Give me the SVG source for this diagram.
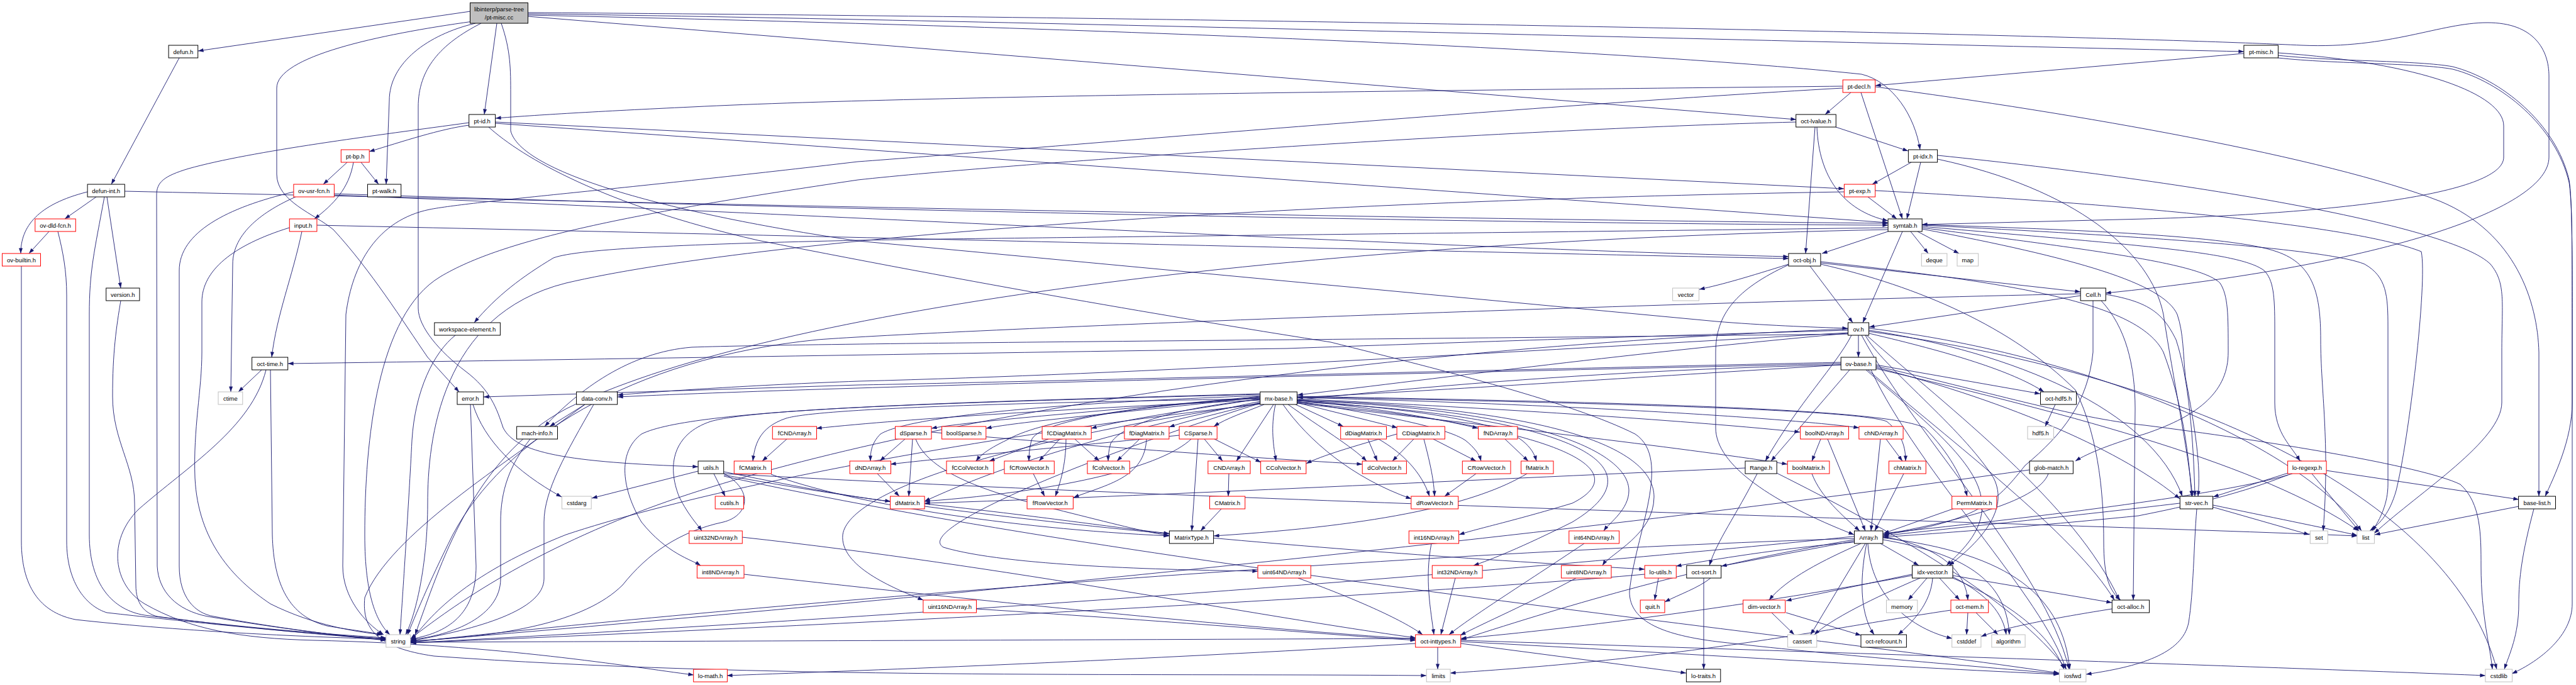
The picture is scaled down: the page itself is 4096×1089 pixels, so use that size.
<svg xmlns="http://www.w3.org/2000/svg" width="4096" height="1089" viewBox="0 0 4096 1089">
<defs>
<style>
rect{stroke-width:1;fill:#fff}
.k rect{stroke:#000}
.r rect{stroke:#ff0000}
.g rect{stroke:#bfbfbf}
.m rect{stroke:#000;fill:#bfbfbf}
text{font-family:"Liberation Sans",Arial,Helvetica,sans-serif;font-size:9.5px;text-anchor:middle;fill:#000}
#edges path{fill:none;stroke:#191970;stroke-width:0.9;marker-end:url(#arr)}
</style>
<marker id="arr" viewBox="0 0 10 7" refX="10" refY="3.5" markerWidth="9" markerHeight="6" markerUnits="userSpaceOnUse" orient="auto"><path d="M0,0 L10,3.5 L0,7 z" fill="#191970"/></marker>
</defs>
<rect x="0" y="0" width="4096" height="1089" fill="#fff" stroke="none"/>
<g id="edges">
<path d="M748,18 L315,81"/>
<path d="M285,92 L177,293"/>
<path d="M752,34 C600,55 440,90 440,140 L440,277 C440,320 500,340 530,365 C590,430 640,510 680,568 L730,623"/>
<path d="M756,37 C680,55 619,100 619,160 L614,293"/>
<path d="M765,37 C700,70 665,110 665,170 L665,490 C665,520 700,560 740,590 C780,620 790,650 800,680 C820,720 900,735 1110,742"/>
<path d="M790,37 L770,182"/>
<path d="M839,22 C1500,30 3000,70 3568,82"/>
<path d="M839,20 C2000,28 3300,55 3660,72 C3800,78 3880,36 3955,36 C4030,36 4053,80 4053,121 L4053,250 C4053,330 3800,420 3348,466"/>
<path d="M839,24 C1800,45 2600,80 2960,118 C3010,130 3045,185 3053,238"/>
<path d="M839,26 L2856,190"/>
<path d="M797,37 C812,80 812,110 812,150 L812,208 C830,280 1100,345 1364,383 L2729,511 C2800,517 2880,520 2938,522"/>
<path d="M746,199 C700,205 640,225 587,241"/>
<path d="M746,195 C600,215 400,240 300,268 C260,280 249,290 249,310 L250,900 C252,940 280,970 330,980 C450,1000 550,1012 614,1017"/>
<path d="M788,194 L2932,300"/>
<path d="M788,196 L3002,354"/>
<path d="M777,202 C830,250 960,326 1205,382 C1600,460 1900,510 2116,544 C2300,590 2500,640 2600,690 C2660,730 2600,850 2591,940 C2590,990 2650,1010 2730,1020 C2900,1040 3150,1060 3274,1071"/>
<path d="M2930,137 C2500,142 1500,150 1100,170 C950,177 850,183 788,188"/>
<path d="M2943,147 L2902,182"/>
<path d="M2959,147 L3025,348"/>
<path d="M2930,140 C2400,170 1600,240 1364,257 C1000,300 750,320 683,333 C600,350 560,420 550,500 L545,900 C545,950 580,990 610,1009"/>
<path d="M2982,138 C3300,180 3700,250 3880,320 C4000,370 4035,480 4037,560 L4037,789"/>
<path d="M3081,247 C3500,290 3900,360 3960,420 C3985,450 3978,480 3978,560 L3978,640 C3978,700 3850,780 3775,848"/>
<path d="M3622,92 C3715,102 3846,100 3900,110 C3977,130 4064,200 4085,290 C4090,320 4090,400 4090,500 L4090,640 C4090,700 4060,760 4047,789"/>
<path d="M3622,88 C3715,98 3846,96 3900,106 C3977,126 4064,196 4085,286 C4090,316 4090,400 4090,500 L4090,960 C4090,1010 4040,1050 3994,1071"/>
<path d="M3568,85 L2982,136"/>
<path d="M3622,84 C3850,100 3981,150 3981,200 L3981,250 C3981,310 3700,340 3410,348 L3056,357"/>
<path d="M2919,202 L3034,240"/>
<path d="M2886,202 L2871,403"/>
<path d="M2889,202 C2892,280 2930,335 3002,351"/>
<path d="M2856,194 C2400,205 1600,260 1364,286 C1000,340 800,380 700,440 C600,500 580,700 580,850 C580,950 600,990 620,1009"/>
<path d="M552,258 L514,293"/>
<path d="M574,258 L602,293"/>
<path d="M562,258 C555,300 530,325 500,348"/>
<path d="M3039,258 L2977,293"/>
<path d="M3054,258 L3032,348"/>
<path d="M3081,253 C3300,300 3420,400 3440,500 C3455,600 3480,720 3486,789"/>
<path d="M139,305 C60,325 33,360 33,403"/>
<path d="M153,313 L103,348"/>
<path d="M170,313 L192,458"/>
<path d="M166,313 C150,400 142,430 142,500 L142,850 C142,930 180,970 230,978 C400,1000 550,1010 614,1014"/>
<path d="M198,304 C1000,322 2200,348 3002,355"/>
<path d="M78,368 L46,403"/>
<path d="M92,368 C100,400 106,430 106,470 L106,860 C106,930 140,965 170,974 C400,1000 550,1012 614,1015"/>
<path d="M34,423 L34,860 C34,940 70,975 120,985 C300,1005 500,1013 614,1016"/>
<path d="M192,478 C185,520 179,560 179,630 C179,700 214,740 214,800 L216,930 C216,960 230,975 250,980 C400,1000 550,1012 614,1017"/>
<path d="M467,305 C360,330 285,370 285,430 L285,900 C285,950 310,975 340,980 C450,1000 550,1012 614,1018"/>
<path d="M470,313 C420,335 370,370 370,420 L367,623"/>
<path d="M531,308 C1200,330 2300,355 3002,358"/>
<path d="M531,310 C1500,350 2300,395 2844,408"/>
<path d="M460,362 C370,390 321,430 321,480 L321,560 C321,620 307,680 310,760 C315,860 370,920 430,960 C500,995 570,1005 608,1009"/>
<path d="M480,368 C465,440 440,500 432,568"/>
<path d="M504,358 C1500,380 2300,400 2844,411"/>
<path d="M2970,313 L3016,348"/>
<path d="M2982,303 C3400,325 3750,360 3850,400 C3860,450 3830,700 3810,780 C3800,815 3785,832 3768,844"/>
<path d="M2932,305 C2000,320 1200,380 900,450 C700,500 680,700 680,800 C680,900 660,980 645,1009"/>
<path d="M3002,368 L2897,403"/>
<path d="M3025,368 L2962,513"/>
<path d="M3038,368 L3066,403"/>
<path d="M3049,368 L3115,403"/>
<path d="M3056,357 C3300,365 3550,375 3620,400 C3680,420 3690,470 3690,540 C3690,620 3705,700 3694,844"/>
<path d="M3056,358 C3400,375 3700,395 3760,420 C3795,440 3797,470 3797,520 L3797,770 C3797,800 3785,825 3772,844"/>
<path d="M3056,360 C3400,390 3560,400 3600,430 C3615,445 3617,470 3617,520 L3617,640 C3617,690 3645,710 3657,733"/>
<path d="M3056,362 C3350,400 3500,420 3530,450 C3543,470 3543,500 3543,560 C3543,620 3500,660 3410,690 C3360,705 3320,720 3300,733"/>
<path d="M3056,364 C3300,410 3440,450 3462,500 C3472,530 3471,560 3475,600 C3490,680 3500,740 3495,789"/>
<path d="M3002,362 C2400,370 1600,378 1365,382 C1100,388 920,395 880,410 C830,440 790,470 754,513"/>
<path d="M3002,365 C2000,385 1200,500 900,650 C750,730 700,900 660,1009"/>
<path d="M2878,423 L2946,513"/>
<path d="M2895,418 L3308,464"/>
<path d="M2844,420 C2780,440 2740,452 2702,460"/>
<path d="M2895,420 C3050,455 3200,520 3300,620 C3340,700 3345,800 3345,860 C3345,920 3355,940 3372,954"/>
<path d="M2844,421 C2760,460 2728,500 2728,560 L2728,680 C2728,740 2820,800 2948,850"/>
<path d="M2895,416 C3200,450 3400,480 3440,560 C3470,640 3480,720 3485,789"/>
<path d="M3308,470 L2972,520"/>
<path d="M3328,478 L3328,560 C3320,640 3280,690 3220,740 C3180,790 3150,830 2994,850"/>
<path d="M3341,478 C3380,520 3395,580 3395,650 L3392,954"/>
<path d="M3348,468 C3420,480 3440,500 3460,540 C3480,600 3488,700 3490,789"/>
<path d="M3308,467 C2500,485 1500,525 1300,540 C1000,570 800,700 720,850 C680,930 660,980 648,1009"/>
<path d="M724,533 C690,560 660,620 655,700 C650,800 640,950 636,1009"/>
<path d="M2955,533 L2955,568"/>
<path d="M2938,525 C2600,535 2300,545 2046,554 C1500,562 900,572 458,578"/>
<path d="M2927,576 C2300,590 1500,610 1365,612 L769,631"/>
<path d="M2938,529 C2400,560 1800,595 1365,606 C1200,612 1050,622 982,628"/>
<path d="M2938,531 C2200,540 1300,545 1100,552 C1000,560 920,620 866,678"/>
<path d="M2944,533 C2920,580 2860,640 2807,733"/>
<path d="M2941,588 L2816,733"/>
<path d="M2938,530 C2600,560 2300,600 2063,628"/>
<path d="M2927,580 C2600,600 2300,620 2063,632"/>
<path d="M2966,533 C2990,580 3120,680 3170,760 C3195,810 3150,860 3099,899"/>
<path d="M2967,588 C3050,660 3140,730 3150,790 C3160,840 3120,875 3095,899"/>
<path d="M2972,530 C3100,560 3200,590 3250,623"/>
<path d="M2983,580 L3244,626"/>
<path d="M2972,525 C3200,560 3420,650 3470,789"/>
<path d="M2972,522 C3300,560 3650,700 3755,844"/>
<path d="M2960,533 C3050,700 3250,900 3290,1064"/>
<path d="M2938,523 C2000,560 1300,700 1000,820 C800,900 700,980 653,1015"/>
<path d="M2972,527 C3500,600 3900,800 3970,1064"/>
<path d="M2968,533 C3100,650 3300,800 3370,954"/>
<path d="M2983,584 C3200,640 3380,720 3466,793"/>
<path d="M2983,582 C3150,620 3300,665 3410,676 C3600,700 3850,740 3912,770 C3945,800 3945,850 3945,900 C3945,980 3960,1030 3963,1064"/>
<path d="M2983,586 C3300,660 3600,740 3750,844"/>
<path d="M2975,588 C3050,750 3250,950 3285,1064"/>
<path d="M2927,580 C2000,600 1200,750 900,850 C750,910 690,970 653,1020"/>
<path d="M2927,578 C2200,595 1400,612 982,631"/>
<path d="M2970,588 C3100,700 3300,850 3362,954"/>
<path d="M416,588 L379,623"/>
<path d="M430,588 L433,850 C435,930 460,980 520,995 C560,1002 590,1005 608,1009"/>
<path d="M423,588 C400,680 300,740 220,810 C170,860 180,930 230,960 C300,1000 380,1015 500,1018 C800,1025 1000,1060 1103,1073"/>
<path d="M930,643 L874,678"/>
<path d="M944,643 C900,720 865,780 865,830 L865,920 C865,970 760,1000 653,1019"/>
<path d="M930,643 C800,740 620,850 580,950 C575,1000 600,1030 690,1043 C1200,1080 1800,1070 2268,1074"/>
<path d="M843,698 C810,740 796,780 796,830 L796,920 C796,980 720,1010 653,1017"/>
<path d="M752,643 C770,700 820,750 893,790"/>
<path d="M748,643 L757,900 C757,970 720,1005 653,1016"/>
<path d="M1110,749 L941,792"/>
<path d="M1135,753 L1153,789"/>
<path d="M1150,752 C1200,780 1190,820 1150,830 C1080,845 1030,880 990,930 C930,990 800,1012 653,1019"/>
<path d="M1151,755 C1500,820 2000,870 2615,905"/>
<path d="M1151,757 C1800,900 2800,1000 3274,1070"/>
<path d="M1151,753 C2000,800 3200,830 3748,852"/>
<path d="M1151,750 C1250,770 1350,790 1416,797"/>
<path d="M1251,698 L1212,733"/>
<path d="M2004,636 C1700,650 1450,665 1298,681"/>
<path d="M2004,634 C1600,640 1300,650 1250,665 C1205,680 1200,710 1197,733"/>
<path d="M2004,630 C1800,650 1550,668 1481,681"/>
<path d="M2004,631 C1800,655 1620,670 1568,681"/>
<path d="M2004,634 C1900,650 1800,665 1735,681"/>
<path d="M2006,639 C1950,655 1900,665 1859,679"/>
<path d="M2010,643 C1980,655 1950,665 1930,678"/>
<path d="M2025,643 L1966,733"/>
<path d="M2028,643 C2020,680 2025,710 2029,733"/>
<path d="M2004,629 C1700,640 1450,660 1400,690 C1385,705 1384,720 1384,733"/>
<path d="M2004,632 C1800,645 1650,670 1600,700 C1575,712 1560,722 1552,733"/>
<path d="M2004,633 C1800,645 1650,670 1640,700 C1637,712 1636,722 1636,733"/>
<path d="M2004,635 C1850,650 1780,680 1766,705 C1763,715 1762,725 1762,733"/>
<path d="M2060,643 L2136,678"/>
<path d="M2062,640 L2222,680"/>
<path d="M2062,636 C2200,650 2300,668 2350,681"/>
<path d="M2048,643 C2100,680 2150,710 2173,733"/>
<path d="M2062,638 C2200,660 2300,680 2330,700 C2345,712 2352,722 2355,733"/>
<path d="M2062,637 C2250,650 2380,670 2420,700 C2435,712 2440,722 2443,733"/>
<path d="M2040,643 C2080,700 2150,760 2244,793"/>
<path d="M2062,634 C2400,650 2700,670 2862,687"/>
<path d="M2062,632 C2400,640 2800,660 2956,680"/>
<path d="M2062,641 C2400,680 2700,715 2842,738"/>
<path d="M2062,631 C2500,640 2950,650 3000,670 C3025,690 3030,712 3030,733"/>
<path d="M2062,630 C2600,640 3000,650 3060,680 C3100,720 3120,760 3128,789"/>
<path d="M2062,640 C2500,680 2600,750 2500,800 C2400,830 2350,840 2320,850"/>
<path d="M2062,639 C2500,660 2650,740 2500,830 C2420,870 2370,890 2343,899"/>
<path d="M2062,637 C2450,650 2590,720 2590,780 C2590,810 2560,830 2550,844"/>
<path d="M2062,636 C2500,650 2630,720 2630,790 C2630,850 2560,880 2548,899"/>
<path d="M2004,627 C1500,640 1200,650 1130,670 C1070,690 1060,740 1080,790 C1095,820 1110,835 1116,844"/>
<path d="M2004,626 C1500,640 1100,650 1020,690 C980,720 990,780 1020,830 C1060,880 1100,890 1114,899"/>
<path d="M2004,641 C1750,720 1450,840 1500,870 C1600,900 1850,906 2000,908"/>
<path d="M2004,641 C1600,700 1350,780 1340,850 C1335,900 1420,935 1468,954"/>
<path d="M2004,638 C1700,700 1550,760 1470,797"/>
<path d="M1439,698 L1399,733"/>
<path d="M1451,698 L1445,789"/>
<path d="M1456,698 C1480,760 1600,790 1700,815 C1780,835 1830,848 1859,851"/>
<path d="M1481,687 C1800,715 2000,728 2166,738"/>
<path d="M1915,698 L1944,733"/>
<path d="M1931,698 L2005,735"/>
<path d="M1905,698 L1895,844"/>
<path d="M1894,698 C1850,740 1700,780 1470,797"/>
<path d="M1875,692 C1700,710 1500,728 1416,738"/>
<path d="M1667,698 L1573,733"/>
<path d="M1685,698 L1652,733"/>
<path d="M1709,698 L1748,733"/>
<path d="M1695,698 C1695,740 1685,770 1678,789"/>
<path d="M1812,698 L1776,733"/>
<path d="M1823,698 C1820,760 1760,770 1707,791"/>
<path d="M1643,753 L1661,789"/>
<path d="M1395,753 L1430,789"/>
<path d="M1954,753 L1953,789"/>
<path d="M1942,809 L1909,844"/>
<path d="M1470,801 C1650,820 1780,840 1859,848"/>
<path d="M1226,754 C1350,800 1600,840 1859,852"/>
<path d="M2428,753 C2350,800 2200,835 1930,852"/>
<path d="M2175,698 L2190,733"/>
<path d="M2192,698 C2230,720 2260,750 2273,789"/>
<path d="M2248,698 L2214,733"/>
<path d="M2264,698 C2275,740 2280,765 2281,789"/>
<path d="M2279,698 L2347,733"/>
<path d="M2221,690 C2150,710 2100,725 2077,737"/>
<path d="M2393,698 L2430,733"/>
<path d="M2347,753 L2297,789"/>
<path d="M2895,698 L2881,733"/>
<path d="M2906,698 L2966,844"/>
<path d="M2999,698 L3025,733"/>
<path d="M2990,698 L2975,844"/>
<path d="M2881,753 C2895,790 2930,820 2957,844"/>
<path d="M3027,753 L2981,844"/>
<path d="M3108,808 L2995,848"/>
<path d="M3257,753 C3240,800 3100,830 2995,850"/>
<path d="M3227,747 C2500,850 1500,950 653,1020"/>
<path d="M2794,753 C2760,820 2730,860 2718,899"/>
<path d="M2825,752 C3000,840 3200,950 3286,1064"/>
<path d="M2775,744 C2400,760 1800,790 1470,800"/>
<path d="M2990,864 L3051,899"/>
<path d="M2959,864 C2900,890 2840,920 2813,954"/>
<path d="M2966,864 L2879,1009"/>
<path d="M2968,864 C2955,930 2960,980 2980,1009"/>
<path d="M2970,864 C2975,950 3040,1000 3104,1015"/>
<path d="M2994,858 C3120,880 3190,920 3195,1009"/>
<path d="M2994,855 C3200,880 3280,950 3291,1064"/>
<path d="M2994,853 C3090,870 3125,910 3129,954"/>
<path d="M2948,860 L2737,900"/>
<path d="M2948,862 C2850,870 2750,885 2665,900"/>
<path d="M2948,856 C2200,880 1200,960 653,1021"/>
<path d="M2948,858 C2700,900 2500,960 2323,1017"/>
<path d="M2720,919 C2700,935 2670,945 2647,957"/>
<path d="M3040,913 L2840,955"/>
<path d="M3064,919 L3034,954"/>
<path d="M3084,919 L3116,954"/>
<path d="M3073,919 C3070,960 3040,990 3018,1009"/>
<path d="M3053,919 C2980,950 2910,985 2885,1009"/>
<path d="M3105,917 C3160,945 3185,975 3190,1009"/>
<path d="M3105,919 C3200,960 3260,1010 3282,1064"/>
<path d="M3105,915 L3358,958"/>
<path d="M3040,915 C2800,960 2500,1000 2323,1015"/>
<path d="M2817,974 L2853,1009"/>
<path d="M2840,974 L2959,1010"/>
<path d="M3129,974 L3127,1009"/>
<path d="M3142,974 L3177,1009"/>
<path d="M3102,970 C2900,1000 2700,1045 2306,1070"/>
<path d="M3358,968 C3250,985 3180,1000 3150,1012"/>
<path d="M2709,919 L2709,1064"/>
<path d="M2637,919 L2631,954"/>
<path d="M2615,913 C2200,950 1200,1000 653,1022"/>
<path d="M2286,1029 L2286,1064"/>
<path d="M2323,1023 L2681,1070"/>
<path d="M2251,1023 C1800,1050 1400,1065 1156,1074"/>
<path d="M2323,1020 C2700,1040 3000,1060 3274,1072"/>
<path d="M2323,1018 C3000,1040 3600,1060 3952,1074"/>
<path d="M2251,1015 C1800,1017 1200,1019 653,1021"/>
<path d="M1180,854 C1600,900 2000,980 2251,1014"/>
<path d="M1183,913 C1600,960 2000,1000 2251,1016"/>
<path d="M1552,968 C1900,990 2100,1008 2251,1018"/>
<path d="M2064,919 C2150,950 2230,985 2262,1009"/>
<path d="M2276,864 C2265,920 2275,970 2280,1009"/>
<path d="M2314,919 L2291,1009"/>
<path d="M2519,864 C2420,930 2340,980 2304,1009"/>
<path d="M2506,919 C2430,960 2360,990 2322,1010"/>
<path d="M3518,806 L3672,850"/>
<path d="M3519,803 C3600,820 3700,840 3748,851"/>
<path d="M3466,800 C3300,820 3100,840 2994,852"/>
<path d="M3493,809 C3488,870 3488,940 3480,990 C3470,1040 3400,1060 3317,1072"/>
<path d="M3638,752 L3519,790"/>
<path d="M3676,753 L3751,844"/>
<path d="M3699,748 L4005,794"/>
<path d="M3638,755 C3550,790 3450,810 3400,820 C3200,840 3050,850 2994,854"/>
<path d="M3645,753 C3400,830 2000,950 653,1022"/>
<path d="M4005,805 L3776,850"/>
<path d="M4029,809 C4010,880 4005,920 4005,960 C4005,1010 3990,1040 3982,1064"/>
<path d="M3268,643 L3252,678"/>
</g>
<g id="n_pt_misc_cc" class="m"><rect x="747.5" y="4.5" width="92" height="32.5"/><text x="793.5" y="18">libinterp/parse-tree</text><text x="793.5" y="30.5">/pt-misc.cc</text></g>
<g id="n_defun_h" class="k"><rect x="268.1" y="72" width="46.6" height="20"/><text x="291.4" y="85.5">defun.h</text></g>
<g id="n_pt_misc_h" class="k"><rect x="3567.9" y="72" width="54.5" height="20"/><text x="3595.2" y="85.5">pt-misc.h</text></g>
<g id="n_pt_decl_h" class="r"><rect x="2930.2" y="127" width="51.5" height="20"/><text x="2956" y="140.5">pt-decl.h</text></g>
<g id="n_pt_id_h" class="k"><rect x="745.7" y="182" width="41.9" height="20"/><text x="766.7" y="195.5">pt-id.h</text></g>
<g id="n_oct_lvalue_h" class="k"><rect x="2855.7" y="182" width="63.6" height="20"/><text x="2887.5" y="195.5">oct-lvalue.h</text></g>
<g id="n_pt_bp_h" class="r"><rect x="542.3" y="238" width="44.9" height="20"/><text x="564.8" y="251.5">pt-bp.h</text></g>
<g id="n_pt_idx_h" class="k"><rect x="3034.4" y="238" width="46.2" height="20"/><text x="3057.5" y="251.5">pt-idx.h</text></g>
<g id="n_defun_int_h" class="k"><rect x="139.1" y="293" width="59.2" height="20"/><text x="168.7" y="306.5">defun-int.h</text></g>
<g id="n_ov_usr_fcn_h" class="r"><rect x="466.9" y="293" width="64.5" height="20"/><text x="499.2" y="306.5">ov-usr-fcn.h</text></g>
<g id="n_pt_walk_h" class="k"><rect x="584.5" y="293" width="53.2" height="20"/><text x="611.1" y="306.5">pt-walk.h</text></g>
<g id="n_pt_exp_h" class="r"><rect x="2932.4" y="293" width="49.3" height="20"/><text x="2957.1" y="306.5">pt-exp.h</text></g>
<g id="n_ov_dld_fcn_h" class="r"><rect x="55.8" y="348" width="64.5" height="20"/><text x="88.1" y="361.5">ov-dld-fcn.h</text></g>
<g id="n_input_h" class="r"><rect x="460.3" y="348" width="43.6" height="20"/><text x="482.1" y="361.5">input.h</text></g>
<g id="n_symtab_h" class="k"><rect x="3002.1" y="348" width="54.1" height="20"/><text x="3029.2" y="361.5">symtab.h</text></g>
<g id="n_ov_builtin_h" class="r"><rect x="3.5" y="403" width="61" height="20"/><text x="34" y="416.5">ov-builtin.h</text></g>
<g id="n_oct_obj_h" class="k"><rect x="2843.9" y="403" width="51" height="20"/><text x="2869.4" y="416.5">oct-obj.h</text></g>
<g id="n_deque" class="g"><rect x="3055.3" y="403" width="40.6" height="20"/><text x="3075.6" y="416.5">deque</text></g>
<g id="n_map" class="g"><rect x="3112" y="403" width="33.6" height="20"/><text x="3128.8" y="416.5">map</text></g>
<g id="n_version_h" class="k"><rect x="168.7" y="458" width="53.2" height="20"/><text x="195.3" y="471.5">version.h</text></g>
<g id="n_vector" class="g"><rect x="2659.6" y="458" width="41.9" height="20"/><text x="2680.6" y="471.5">vector</text></g>
<g id="n_Cell_h" class="k"><rect x="3308.2" y="458" width="40.1" height="20"/><text x="3328.3" y="471.5">Cell.h</text></g>
<g id="n_workspace_element_h" class="k"><rect x="690.8" y="513" width="104.6" height="20"/><text x="743.1" y="526.5">workspace-element.h</text></g>
<g id="n_ov_h" class="k"><rect x="2938.5" y="513" width="33.1" height="20"/><text x="2955.1" y="526.5">ov.h</text></g>
<g id="n_oct_time_h" class="k"><rect x="400.6" y="568" width="57.1" height="20"/><text x="429.2" y="581.5">oct-time.h</text></g>
<g id="n_ov_base_h" class="k"><rect x="2927.2" y="568" width="55.8" height="20"/><text x="2955.1" y="581.5">ov-base.h</text></g>
<g id="n_ctime" class="g"><rect x="347" y="623" width="38.8" height="20"/><text x="366.4" y="636.5">ctime</text></g>
<g id="n_error_h" class="k"><rect x="727" y="623" width="41.8" height="20"/><text x="747.9" y="636.5">error.h</text></g>
<g id="n_data_conv_h" class="k"><rect x="916.6" y="623" width="65" height="20"/><text x="949.1" y="636.5">data-conv.h</text></g>
<g id="n_mx_base_h" class="k"><rect x="2003.7" y="623" width="58.7" height="20"/><text x="2033.1" y="636.5">mx-base.h</text></g>
<g id="n_oct_hdf5_h" class="k"><rect x="3244.5" y="623" width="57.1" height="20"/><text x="3273.1" y="636.5">oct-hdf5.h</text></g>
<g id="n_mach_info_h" class="k"><rect x="821.6" y="678" width="64.9" height="20"/><text x="854.1" y="691.5">mach-info.h</text></g>
<g id="n_fCNDArray_h" class="r"><rect x="1228.3" y="678" width="70.2" height="20"/><text x="1263.4" y="691.5">fCNDArray.h</text></g>
<g id="n_dSparse_h" class="r"><rect x="1423.5" y="678" width="57.5" height="20"/><text x="1452.3" y="691.5">dSparse.h</text></g>
<g id="n_boolSparse_h" class="r"><rect x="1497.6" y="678" width="70.2" height="20"/><text x="1532.7" y="691.5">boolSparse.h</text></g>
<g id="n_fCDiagMatrix_h" class="r"><rect x="1657.1" y="678" width="78.1" height="20"/><text x="1696.2" y="691.5">fCDiagMatrix.h</text></g>
<g id="n_fDiagMatrix_h" class="r"><rect x="1787.9" y="678" width="71" height="20"/><text x="1823.4" y="691.5">fDiagMatrix.h</text></g>
<g id="n_CSparse_h" class="r"><rect x="1875.1" y="678" width="60.1" height="20"/><text x="1905.2" y="691.5">CSparse.h</text></g>
<g id="n_dDiagMatrix_h" class="r"><rect x="2131.7" y="678" width="72.8" height="20"/><text x="2168.1" y="691.5">dDiagMatrix.h</text></g>
<g id="n_CDiagMatrix_h" class="r"><rect x="2221.1" y="678" width="76.3" height="20"/><text x="2259.3" y="691.5">CDiagMatrix.h</text></g>
<g id="n_fNDArray_h" class="r"><rect x="2350.6" y="678" width="62.3" height="20"/><text x="2381.8" y="691.5">fNDArray.h</text></g>
<g id="n_boolNDArray_h" class="r"><rect x="2862.7" y="678" width="76.7" height="20"/><text x="2901.1" y="691.5">boolNDArray.h</text></g>
<g id="n_chNDArray_h" class="r"><rect x="2955.9" y="678" width="70.2" height="20"/><text x="2991" y="691.5">chNDArray.h</text></g>
<g id="n_hdf5_h" class="g"><rect x="3224" y="678" width="41.4" height="20"/><text x="3244.7" y="691.5">hdf5.h</text></g>
<g id="n_utils_h" class="k"><rect x="1110.1" y="733" width="40.6" height="20"/><text x="1130.4" y="746.5">utils.h</text></g>
<g id="n_fCMatrix_h" class="r"><rect x="1167.3" y="733" width="59.2" height="20"/><text x="1196.9" y="746.5">fCMatrix.h</text></g>
<g id="n_dNDArray_h" class="r"><rect x="1351.2" y="733" width="65.3" height="20"/><text x="1383.9" y="746.5">dNDArray.h</text></g>
<g id="n_fCColVector_h" class="r"><rect x="1505" y="733" width="75" height="20"/><text x="1542.5" y="746.5">fCColVector.h</text></g>
<g id="n_fCRowVector_h" class="r"><rect x="1597" y="733" width="79.3" height="20"/><text x="1636.7" y="746.5">fCRowVector.h</text></g>
<g id="n_fColVector_h" class="r"><rect x="1729" y="733" width="67.2" height="20"/><text x="1762.6" y="746.5">fColVector.h</text></g>
<g id="n_CNDArray_h" class="r"><rect x="1920.8" y="733" width="67.2" height="20"/><text x="1954.4" y="746.5">CNDArray.h</text></g>
<g id="n_CColVector_h" class="r"><rect x="2004.6" y="733" width="72.2" height="20"/><text x="2040.7" y="746.5">CColVector.h</text></g>
<g id="n_dColVector_h" class="r"><rect x="2166.2" y="733" width="70.2" height="20"/><text x="2201.3" y="746.5">dColVector.h</text></g>
<g id="n_CRowVector_h" class="r"><rect x="2325.3" y="733" width="76.7" height="20"/><text x="2363.7" y="746.5">CRowVector.h</text></g>
<g id="n_fMatrix_h" class="r"><rect x="2418.6" y="733" width="51.4" height="20"/><text x="2444.3" y="746.5">fMatrix.h</text></g>
<g id="n_Range_h" class="k"><rect x="2775" y="733" width="50.2" height="20"/><text x="2800.1" y="746.5">Range.h</text></g>
<g id="n_boolMatrix_h" class="r"><rect x="2842.2" y="733" width="66.7" height="20"/><text x="2875.6" y="746.5">boolMatrix.h</text></g>
<g id="n_chMatrix_h" class="r"><rect x="3003.5" y="733" width="58.8" height="20"/><text x="3032.9" y="746.5">chMatrix.h</text></g>
<g id="n_glob_match_h" class="k"><rect x="3227.1" y="733" width="69.3" height="20"/><text x="3261.8" y="746.5">glob-match.h</text></g>
<g id="n_lo_regexp_h" class="r"><rect x="3637.6" y="733" width="61.5" height="20"/><text x="3668.4" y="746.5">lo-regexp.h</text></g>
<g id="n_cstdarg" class="g"><rect x="893.5" y="789" width="46.7" height="20"/><text x="916.9" y="802.5">cstdarg</text></g>
<g id="n_cutils_h" class="r"><rect x="1137.2" y="789" width="45.3" height="20"/><text x="1159.9" y="802.5">cutils.h</text></g>
<g id="n_dMatrix_h" class="r"><rect x="1415.6" y="789" width="54.5" height="20"/><text x="1442.9" y="802.5">dMatrix.h</text></g>
<g id="n_fRowVector_h" class="r"><rect x="1633.1" y="789" width="73.3" height="20"/><text x="1669.8" y="802.5">fRowVector.h</text></g>
<g id="n_CMatrix_h" class="r"><rect x="1923.5" y="789" width="56.2" height="20"/><text x="1951.6" y="802.5">CMatrix.h</text></g>
<g id="n_dRowVector_h" class="r"><rect x="2243.8" y="789" width="74.9" height="20"/><text x="2281.3" y="802.5">dRowVector.h</text></g>
<g id="n_PermMatrix_h" class="r"><rect x="3103.7" y="789" width="71.1" height="20"/><text x="3139.3" y="802.5">PermMatrix.h</text></g>
<g id="n_str_vec_h" class="k"><rect x="3466.3" y="789" width="52.3" height="20"/><text x="3492.5" y="802.5">str-vec.h</text></g>
<g id="n_base_list_h" class="k"><rect x="4004.6" y="789" width="58.9" height="20"/><text x="4034.1" y="802.5">base-list.h</text></g>
<g id="n_uint32NDArray_h" class="r"><rect x="1095.8" y="844" width="84.5" height="20"/><text x="1138.1" y="857.5">uint32NDArray.h</text></g>
<g id="n_MatrixType_h" class="k"><rect x="1859.4" y="844" width="70.2" height="20"/><text x="1894.5" y="857.5">MatrixType.h</text></g>
<g id="n_int16NDArray_h" class="r"><rect x="2240.3" y="844" width="79.3" height="20"/><text x="2280" y="857.5">int16NDArray.h</text></g>
<g id="n_int64NDArray_h" class="r"><rect x="2494.8" y="844" width="79.8" height="20"/><text x="2534.7" y="857.5">int64NDArray.h</text></g>
<g id="n_Array_h" class="k"><rect x="2948.5" y="844" width="45.4" height="20"/><text x="2971.2" y="857.5">Array.h</text></g>
<g id="n_set" class="g"><rect x="3673.3" y="844" width="28" height="20"/><text x="3687.3" y="857.5">set</text></g>
<g id="n_list" class="g"><rect x="3747.9" y="844" width="27.5" height="20"/><text x="3761.7" y="857.5">list</text></g>
<g id="n_int8NDArray_h" class="r"><rect x="1108.4" y="899" width="74.6" height="20"/><text x="1145.7" y="912.5">int8NDArray.h</text></g>
<g id="n_uint64NDArray_h" class="r"><rect x="2000" y="899" width="84.2" height="20"/><text x="2042.1" y="912.5">uint64NDArray.h</text></g>
<g id="n_int32NDArray_h" class="r"><rect x="2277.3" y="899" width="79.8" height="20"/><text x="2317.2" y="912.5">int32NDArray.h</text></g>
<g id="n_uint8NDArray_h" class="r"><rect x="2482.6" y="899" width="79.4" height="20"/><text x="2522.3" y="912.5">uint8NDArray.h</text></g>
<g id="n_lo_utils_h" class="r"><rect x="2615.2" y="899" width="50.1" height="20"/><text x="2640.3" y="912.5">lo-utils.h</text></g>
<g id="n_oct_sort_h" class="k"><rect x="2681.8" y="899" width="54.9" height="20"/><text x="2709.3" y="912.5">oct-sort.h</text></g>
<g id="n_idx_vector_h" class="k"><rect x="3040.5" y="899" width="64.5" height="20"/><text x="3072.8" y="912.5">idx-vector.h</text></g>
<g id="n_uint16NDArray_h" class="r"><rect x="1467.9" y="954" width="84.6" height="20"/><text x="1510.2" y="967.5">uint16NDArray.h</text></g>
<g id="n_quit_h" class="r"><rect x="2608.2" y="954" width="38.8" height="20"/><text x="2627.6" y="967.5">quit.h</text></g>
<g id="n_dim_vector_h" class="r"><rect x="2771.6" y="954" width="67.1" height="20"/><text x="2805.2" y="967.5">dim-vector.h</text></g>
<g id="n_memory" class="g"><rect x="2999.5" y="954" width="49.3" height="20"/><text x="3024.2" y="967.5">memory</text></g>
<g id="n_oct_mem_h" class="r"><rect x="3102" y="954" width="59.7" height="20"/><text x="3131.9" y="967.5">oct-mem.h</text></g>
<g id="n_oct_alloc_h" class="k"><rect x="3358.3" y="954" width="59.2" height="20"/><text x="3387.9" y="967.5">oct-alloc.h</text></g>
<g id="n_string" class="g"><rect x="613.8" y="1009" width="38.7" height="20"/><text x="633.2" y="1022.5">string</text></g>
<g id="n_oct_inttypes_h" class="r"><rect x="2250.7" y="1009" width="72" height="20"/><text x="2286.7" y="1022.5">oct-inttypes.h</text></g>
<g id="n_cassert" class="g"><rect x="2842.6" y="1009" width="46.2" height="20"/><text x="2865.7" y="1022.5">cassert</text></g>
<g id="n_oct_refcount_h" class="k"><rect x="2959" y="1009" width="72.4" height="20"/><text x="2995.2" y="1022.5">oct-refcount.h</text></g>
<g id="n_cstddef" class="g"><rect x="3103.7" y="1009" width="46.2" height="20"/><text x="3126.8" y="1022.5">cstddef</text></g>
<g id="n_algorithm" class="g"><rect x="3166.9" y="1009" width="53.2" height="20"/><text x="3193.5" y="1022.5">algorithm</text></g>
<g id="n_lo_math_h" class="r"><rect x="1102.7" y="1064" width="53.7" height="20"/><text x="1129.6" y="1077.5">lo-math.h</text></g>
<g id="n_limits" class="g"><rect x="2268.2" y="1064" width="37.9" height="20"/><text x="2287.2" y="1077.5">limits</text></g>
<g id="n_lo_traits_h" class="k"><rect x="2681.4" y="1064" width="54.4" height="20"/><text x="2708.6" y="1077.5">lo-traits.h</text></g>
<g id="n_iosfwd" class="g"><rect x="3274.6" y="1064" width="42.3" height="20"/><text x="3295.8" y="1077.5">iosfwd</text></g>
<g id="n_cstdlib" class="g"><rect x="3951.9" y="1064" width="42.7" height="20"/><text x="3973.3" y="1077.5">cstdlib</text></g>
</svg>
